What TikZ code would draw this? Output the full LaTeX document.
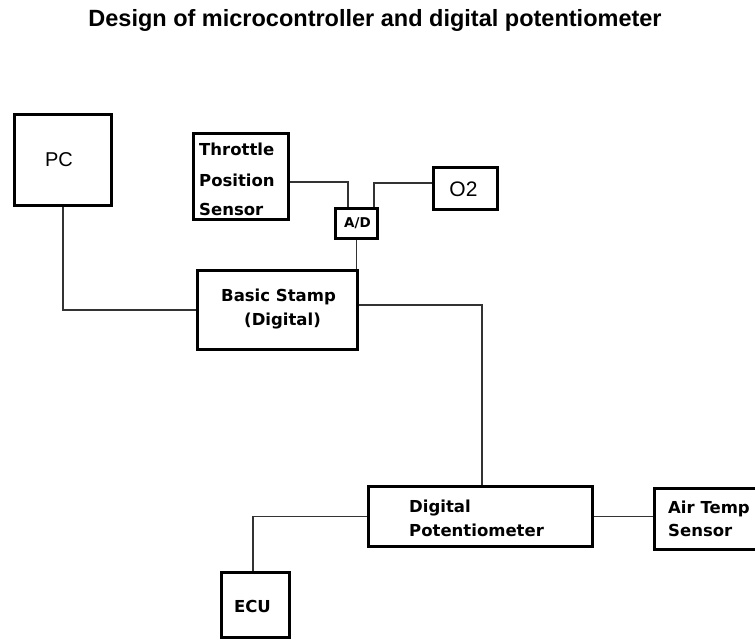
\documentclass[tikz,border=0pt]{standalone}
\usepackage{fontspec}
\setmainfont{Liberation Sans}
\newfontfamily\boxfont{DejaVu Sans}
\begin{document}
\begin{tikzpicture}[x=1pt,y=-1pt,
  box/.style={draw=black,line width=2.6pt,rectangle,inner sep=0pt,fill=white},
  wire/.style={draw=black!80,line width=1.4pt},
  lbl/.style={inner sep=0pt,font=\boxfont\bfseries\fontsize{16.5}{20}\selectfont},
  plain/.style={inner sep=0pt,font=\fontsize{20}{24}\selectfont}]
\useasboundingbox[fill=white] (0,0) rectangle (755,641);
% title
\node[inner sep=0pt,anchor=base,font=\bfseries\fontsize{23.5}{28}\selectfont] (title) at (375,26) {Design of microcontroller and digital potentiometer};
% boxes
\node[box,minimum width=97.5pt,minimum height=91.5pt] (pc) at (63,160) {};
\node[box,minimum width=95.5pt,minimum height=86.5pt] (tps) at (241,176.5) {};
\node[box,minimum width=42.5pt,minimum height=30.5pt] (ad) at (356.5,223.5) {};
\node[box,minimum width=64.5pt,minimum height=42.5pt] (o2) at (465.5,188.5) {};
\node[box,minimum width=160.5pt,minimum height=79.5pt] (bs) at (277.5,310) {};
\node[box,minimum width=224.5pt,minimum height=60.5pt] (dp) at (480.5,516.5) {};
\node[box,minimum width=119.5pt,minimum height=61.5pt] (air) at (714,519) {};
\node[box,minimum width=68.5pt,minimum height=65.5pt] (ecu) at (255.5,605) {};
% connectors
\draw[wire] (pc.south) |- (bs.west);
\draw[wire] ([yshift=-5.5pt]tps.east) -| ([xshift=-8.5pt]ad.north);
\draw[wire] ([xshift=17.5pt]ad.north) |- ([yshift=5.5pt]o2.west);
\draw[wire] (ad.south) -- (ad.south |- bs.north);
\draw[wire] ([yshift=5pt]bs.east) -| ([xshift=1.5pt]dp.north);
\draw[wire] (dp.west) -| ([xshift=-2.5pt]ecu.north);
\draw[wire] (dp.east) -- (dp.east -| air.west);
% labels
\node[plain] (pcl) at (59,160) {PC};
\node[plain,font=\fontsize{21}{24}\selectfont] (o2l) at (463.5,189.5) {O2};
\node[lbl,anchor=base west] (tps1) at (199,155) {Throttle};
\node[lbl,anchor=base west] (tps2) at (199,186) {Position};
\node[lbl,anchor=base west] (tps3) at (199,215) {Sensor};
\node[lbl,font=\boxfont\bfseries\fontsize{13.5}{16}\selectfont] (adl) at (357.5,223) {A/D};
\node[lbl,anchor=base] (bs1) at (278.5,301) {Basic Stamp};
\node[lbl,anchor=base] (bs2) at (282.5,325) {(Digital)};
\node[lbl,anchor=base west] (dp1) at (409,512) {Digital};
\node[lbl,anchor=base west] (dp2) at (409,536) {Potentiometer};
\node[lbl,anchor=base west] (air1) at (668,513) {Air Temp};
\node[lbl,anchor=base west] (air2) at (668,536) {Sensor};
\node[lbl] (ecul) at (252.5,606.5) {ECU};
\end{tikzpicture}
\end{document}
